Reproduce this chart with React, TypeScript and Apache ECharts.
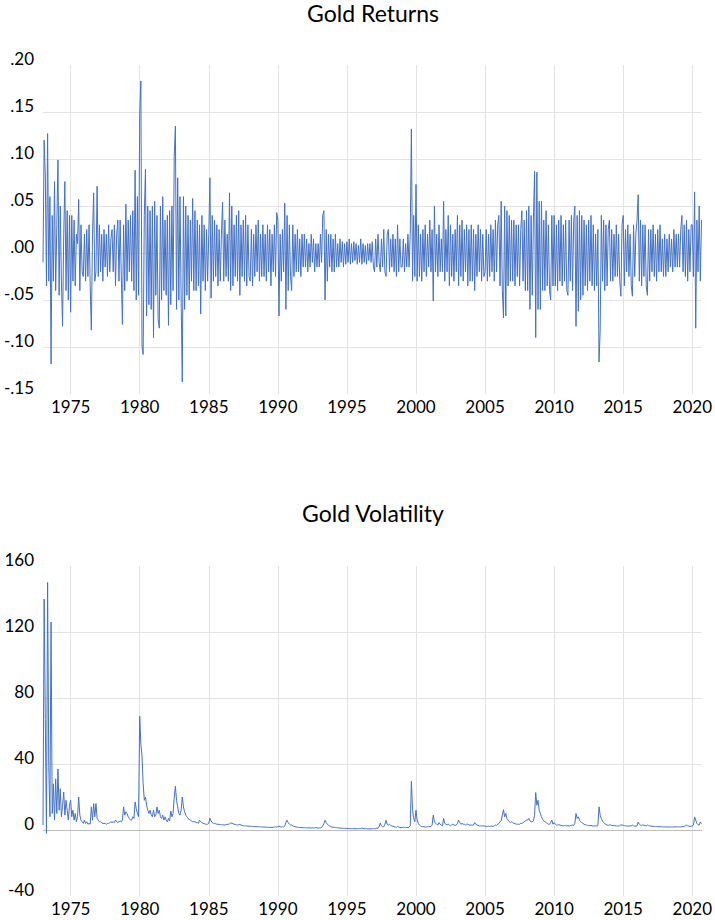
import React, { useEffect, useRef } from "react";
import * as echarts from "echarts";

// Monthly observations starting January 1973
const START_YEAR = 1973;
const PER_YEAR = 12;

const yearTicks = [1975, 1980, 1985, 1990, 1995, 2000, 2005, 2010, 2015, 2020];

// Gold returns (decimal), one row per year
const returns = [
  -.01, .12, .083, -.035, .127, -.03, .06, -.118, .04, -.03, .076, -.04, // 1973
  .03, .099, -.045, .05, -.03, -.078, .02, .076, -.04, .045, -.05, .04, // 1974
  -.063, .04, -.03, .035, -.035, .02, .01, .057, -.04, .03, -.02, -.025, // 1975
  .02, -.03, .025, -.025, .03, -.035, -.082, .02, .064, -.03, -.02, .071, // 1976
  -.025, .03, -.02, .02, -.03, .025, -.015, .02, -.025, .03, -.02, .015, // 1977
  .025, -.02, .03, -.035, .02, .035, -.03, .035, -.025, -.076, .03, -.04, // 1978
  .052, -.03, .035, -.02, .04, -.03, .045, -.04, .088, -.05, .06, -.045, // 1979
  .148, .183, -.099, -.108, .04, .089, -.067, .05, -.055, .045, -.06, .05, // 1980
  -.09, .055, -.045, .04, -.07, -.08, .05, -.05, .06, -.04, .035, -.045, // 1981
  .04, -.077, .045, -.055, .05, -.04, .103, .135, -.06, .08, -.05, .06, // 1982
  -.05, -.137, .06, -.06, .05, -.045, .04, -.05, .035, -.03, .058, -.04, // 1983
  .045, -.04, .035, -.035, .03, -.065, .04, -.03, .03, -.04, .025, -.03, // 1984
  .02, .08, -.048, .04, -.03, .035, -.025, .03, -.035, .025, -.03, .02, // 1985
  .054, -.03, .035, -.025, .02, -.03, .064, -.04, .05, -.035, .03, -.025, // 1986
  .04, -.03, .045, -.045, .03, -.025, .035, -.03, .04, -.035, .03, -.025, // 1987
  -.03, .025, -.035, .02, -.025, .03, -.02, .035, -.03, .02, -.025, .03, // 1988
  -.025, .02, -.03, .03, -.02, .025, -.035, .02, -.02, .03, -.025, .043, // 1989
  .035, -.067, .02, -.03, .025, -.02, .053, -.06, .04, -.04, .03, -.025, // 1990
  -.04, .03, -.025, .02, -.02, .025, -.02, .015, -.025, .02, -.015, .02, // 1991
  -.015, .015, -.02, .01, -.015, .02, -.01, .015, -.02, .01, -.015, .01, // 1992
  -.015, .02, -.01, .04, .045, -.05, .025, -.03, .02, -.015, .02, -.02, // 1993
  .015, -.02, .02, -.015, .01, -.015, .015, -.01, .012, -.015, .01, -.012, // 1994
  .012, -.01, .015, -.012, .01, -.01, .012, -.008, .01, -.012, .008, -.01, // 1995
  .015, -.012, .01, -.01, .008, -.012, .01, -.008, .01, -.01, .012, -.015, // 1996
  -.02, .015, -.015, .02, -.01, -.02, .015, -.015, .025, -.02, -.025, .02, // 1997
  .025, -.02, .015, -.015, .02, -.02, .015, -.025, .03, -.02, .015, -.015, // 1998
  -.015, .015, -.02, .01, -.015, .02, -.015, .02, .132, -.03, .04, -.025, // 1999
  .073, -.03, .03, -.025, .02, -.03, .025, -.02, .03, -.025, .02, -.015, // 2000
  .035, -.02, .025, -.051, .05, -.02, .02, -.025, .03, -.02, .015, -.02, // 2001
  .055, -.03, .025, -.02, .04, -.035, .03, -.025, .02, -.03, .025, -.02, // 2002
  .04, -.035, .03, -.025, .035, -.03, .025, -.02, .03, -.035, .025, -.03, // 2003
  .03, -.03, .025, -.04, .02, -.025, .03, -.02, .025, -.03, .02, -.025, // 2004
  -.02, .025, -.03, .02, -.025, .03, -.02, .025, -.03, .035, -.02, .03, // 2005
  .04, -.035, .055, -.04, -.069, .05, -.067, .045, -.035, .04, -.03, .035, // 2006
  -.03, .035, -.035, .03, -.025, .03, -.035, .025, .045, -.03, .035, -.04, // 2007
  .045, -.04, .05, -.06, .04, -.045, .035, .087, -.09, .086, -.06, .055, // 2008
  -.06, .055, -.04, .035, -.04, .045, -.035, .03, -.04, -.05, .04, -.035, // 2009
  .04, -.035, .03, -.04, .035, -.03, .04, -.035, .03, -.03, .035, -.04, // 2010
  -.045, .035, -.03, .04, -.04, .035, .05, -.078, .04, -.062, .045, -.05, // 2011
  .04, -.045, .035, -.035, .03, -.04, .035, -.03, .04, -.035, .03, -.04, // 2012
  .02, -.035, .025, -.116, -.082, .04, -.03, .035, -.04, .03, -.035, .025, // 2013
  .035, -.03, .025, -.03, .02, -.025, .03, -.025, .02, -.03, -.046, .03, // 2014
  .04, -.035, .025, -.02, .03, -.025, .02, -.035, -.046, .03, -.025, .02, // 2015
  .035, .062, -.03, .035, -.035, .03, -.025, .03, -.035, -.045, .025, -.03, // 2016
  .025, -.02, .03, -.025, .02, -.03, .025, -.02, .03, -.02, .015, -.025, // 2017
  .02, -.025, .015, -.02, .02, -.015, .015, -.02, .025, -.015, .02, -.015, // 2018
  .02, -.015, .025, .04, -.02, .03, -.025, .035, -.03, .025, -.02, .03, // 2019
  .03, -.025, .065, -.08, .035, -.02, .05, -.03, .035, // 2020
];

// Gold volatility, one row per year
const volatility = [
  3, 140, 67, -2, 150, 39, 8, 126, 10, 28, 6, 31, // 1973
  10, 37, 12, 25, 8, 15, 23, 9, 18, 12, 6, 15, // 1974
  18, 8, 12, 6, 10, 5, 8, 20, 9, 6, 5, 4, // 1975
  6, 4, 5, 3.5, 4, 3.5, 14, 6, 16, 8, 16, 7, // 1976
  6, 5, 5, 4.5, 4, 4, 4, 3.5, 4, 4, 4.5, 5, // 1977
  4.5, 5, 4.5, 6, 5, 4.5, 5, 5.5, 5, 6, 14, 9, // 1978
  11, 10, 8, 7, 6, 6, 8, 7, 17, 13, 10, 8, // 1979
  69, 52, 45, 28, 18, 20, 15, 12, 10, 12, 9, 8, // 1980
  12, 8, 9, 14, 10, 12, 8, 7, 9, 6, 8, 6, // 1981
  5, 7, 5.5, 11.5, 8, 10, 20, 26.5, 18, 14, 10, 9, // 1982
  12, 20, 14, 11, 9, 8, 7, 6.5, 6, 5.5, 5, 5, // 1983
  5, 4.5, 4.5, 4, 5.9, 5, 4.5, 4, 4, 3.5, 3.5, 3.5, // 1984
  4, 7.1, 5.5, 4.5, 4, 4, 3.8, 3.5, 3.5, 3.4, 3.2, 3.2, // 1985
  3.2, 3, 3, 3.2, 3.4, 3.5, 3.5, 4.4, 4, 3.8, 3.5, 3.2, // 1986
  3.2, 3, 3.2, 3.4, 3, 2.8, 2.6, 2.5, 2.5, 2.4, 2.4, 2.3, // 1987
  2.3, 2.2, 2.2, 2.1, 2.1, 2, 2, 2, 1.9, 1.9, 1.8, 1.8, // 1988
  1.8, 1.7, 1.7, 1.7, 1.6, 1.6, 1.6, 1.6, 1.6, 1.7, 2, 1.8, // 1989
  2, 2.4, 2, 1.8, 2, 1.8, 2.5, 4.5, 5.9, 4.5, 3.5, 3, // 1990
  3, 2.6, 2.2, 2, 1.8, 1.7, 1.6, 1.5, 1.5, 1.4, 1.4, 1.4, // 1991
  1.4, 1.3, 1.3, 1.3, 1.3, 1.2, 1.3, 1.2, 1.3, 1.5, 1.2, 1.2, // 1992
  1.2, 1.3, 1.5, 2.5, 4, 5.9, 4.5, 3.5, 2.8, 2.4, 2, 1.8, // 1993
  1.7, 1.6, 1.5, 1.4, 1.3, 1.2, 1.2, 1.1, 1.1, 1, 1, 1, // 1994
  1, .9, .9, .9, .8, .8, .8, .8, .8, .8, .8, .8, // 1995
  .9, 1.2, .9, .8, .8, .8, .7, .7, .7, .7, .8, .8, // 1996
  .8, .8, 1.2, 1, 2, 4.2, 2.5, 2, 2, 3.5, 5.9, 3.5, // 1997
  3, 3.5, 2.8, 2.5, 2.2, 2, 1.8, 1.6, 2.2, 1.8, 1.5, 1.4, // 1998
  1.4, 1.8, 1.5, 1.4, 1.6, 1.4, 1.8, 2.5, 29.5, 12, 7, 5, // 1999
  12, 6, 4, 3, 2.5, 2, 2, 2, 1.8, 1.8, 2, 2.2, // 2000
  2, 2.2, 3, 9, 5, 4, 3.5, 3, 4.5, 3.5, 3, 2.5, // 2001
  7, 4, 3.5, 3, 3.5, 3, 2.5, 3, 3.5, 3, 2.8, 3, // 2002
  4, 6, 4.5, 3.5, 4, 3.5, 3.5, 3, 3.5, 3.5, 3, 3, // 2003
  3, 3, 3, 4.5, 3.5, 3, 2.8, 2.5, 2.5, 2.4, 2.5, 2.5, // 2004
  2.3, 2.2, 2.2, 2.3, 2.2, 2.4, 2.3, 2.2, 2.5, 3, 2.8, 3.5, // 2005
  4, 5, 5.5, 9, 12.3, 8, 10, 7, 6, 5, 4.5, 5, // 2006
  4.5, 4, 4, 3.5, 3.5, 3.5, 3.5, 4, 4, 4.5, 5, 5.5, // 2007
  6, 6, 7, 5.5, 5, 5, 5.5, 9, 22.7, 15, 18, 12, // 2008
  10, 8, 6.5, 5.5, 5, 4.5, 4, 3.5, 3.5, 4.5, 6, 3.5, // 2009
  4.5, 3.5, 3, 3, 3.2, 3, 2.8, 2.6, 2.5, 2.8, 2.7, 2.5, // 2010
  2.6, 2.4, 2.6, 2.8, 3, 2.8, 4, 10, 7, 8, 6, 5, // 2011
  4.5, 4, 3.5, 3.2, 3, 2.8, 2.7, 2.6, 2.8, 2.5, 2.4, 2.5, // 2012
  2.4, 2.5, 2.6, 14, 9, 7, 5.5, 4.5, 3.8, 3.4, 3, 2.8, // 2013
  3.2, 3, 2.8, 2.7, 2.6, 2.6, 2.5, 2.4, 2.4, 2.6, 3.2, 2.9, // 2014
  2.9, 2.7, 2.5, 2.5, 2.4, 2.3, 2.6, 2.5, 2.9, 2.6, 2.4, 2.3, // 2015
  2.5, 4.8, 3.5, 3, 2.8, 3.1, 2.9, 2.7, 2.5, 3, 2.7, 2.5, // 2016
  2.4, 2.3, 2.2, 2.2, 2.1, 2.1, 2, 2, 2, 2, 1.9, 1.9, // 2017
  1.9, 1.9, 1.8, 1.8, 1.8, 1.8, 1.8, 1.8, 1.9, 1.9, 1.9, 1.9, // 2018
  1.9, 1.9, 1.9, 2, 2, 2.2, 2.6, 3, 2.6, 2.4, 2.2, 2.3, // 2019
  2.5, 3, 7.9, 6, 4, 3.2, 3, 4.8, 3.8, // 2020
];

const X_MIN = 1973;
const X_MAX = 2020.68;

const FONT = "Lato, 'Open Sans', sans-serif";
const LINE_COLOR = "#4472C4";
const GRID_COLOR = "#e3e3e3";

function toPoints(values: number[]) {
  return values.map((v, i) => [START_YEAR + i / PER_YEAR, v]);
}

function fmtReturn(v: number) {
  const s = v.toFixed(2);
  return s.replace("0.", ".");
}

export default function App() {
  const ref = useRef<HTMLDivElement>(null);

  useEffect(() => {
    if (!ref.current) return;
    const chart = echarts.init(ref.current, undefined, { renderer: "svg" });

    const xBase = (gridIndex: number) => ({
      gridIndex,
      type: "value" as const,
      min: X_MIN,
      max: X_MAX,
      axisLine: { show: false, onZero: false },
      axisTick: { show: false, customValues: yearTicks },
      axisLabel: {
        customValues: yearTicks,
        fontSize: 17,
        color: "#000",
        fontFamily: FONT,
        margin: 4,
        formatter: (v: number) => String(v),
      },
      splitLine: { show: true, lineStyle: { color: GRID_COLOR, width: 1 } },
    });

    const yLabel = {
      fontSize: 17,
      color: "#000",
      fontFamily: FONT,
      margin: 9,
      verticalAlign: "bottom",
      lineHeight: 13,
    };

    const titleText = (text: string, y: number) => ({
      type: "text",
      x: 373,
      y,
      style: {
        text,
        align: "center",
        verticalAlign: "middle",
        fontSize: 23,
        fontFamily: FONT,
        fill: "#000",
      },
    });

    chart.setOption({
      animation: false,
      backgroundColor: "#fff",
      textStyle: { fontFamily: FONT },
      graphic: [titleText("Gold Returns", 13), titleText("Gold Volatility", 513)],
      grid: [
        { left: 43, right: 12, top: 65, height: 329, containLabel: false },
        { left: 43, right: 12, top: 566, height: 330, containLabel: false },
      ],
      xAxis: [
        xBase(0),
        xBase(1),
        {
          gridIndex: 1,
          type: "value",
          min: X_MIN,
          max: X_MAX,
          axisLine: { show: true, onZero: true, lineStyle: { color: "#bfbfbf", width: 1 } },
          axisTick: { show: false },
          axisLabel: { show: false },
          splitLine: { show: false },
        },
      ],
      yAxis: [
        {
          gridIndex: 0,
          type: "value",
          min: -0.15,
          max: 0.2,
          interval: 0.05,
          axisLine: { show: false },
          axisTick: { show: false },
          axisLabel: { ...yLabel, formatter: (v: number) => fmtReturn(v) },
          splitLine: {
            show: true,
            showMinLine: false,
            showMaxLine: false,
            lineStyle: { color: GRID_COLOR, width: 1 },
          },
        },
        {
          gridIndex: 1,
          type: "value",
          min: -40,
          max: 160,
          interval: 40,
          axisLine: { show: false },
          axisTick: { show: false },
          axisLabel: { ...yLabel, formatter: (v: number) => String(v) },
          splitLine: {
            show: true,
            showMinLine: false,
            showMaxLine: false,
            lineStyle: { color: GRID_COLOR, width: 1 },
          },
        },
      ],
      series: [
        {
          name: "Gold Returns",
          type: "line",
          xAxisIndex: 0,
          yAxisIndex: 0,
          data: toPoints(returns),
          symbol: "none",
          showSymbol: false,
          lineStyle: { color: LINE_COLOR, width: 1 },
          itemStyle: { color: LINE_COLOR },
        },
        {
          name: "Gold Volatility",
          type: "line",
          xAxisIndex: 1,
          yAxisIndex: 1,
          data: toPoints(volatility),
          symbol: "none",
          showSymbol: false,
          lineStyle: { color: LINE_COLOR, width: 1 },
          itemStyle: { color: LINE_COLOR },
        },
      ],
    });

    return () => chart.dispose();
  }, []);

  return (
    <div
      ref={ref}
      style={{ position: "absolute", left: 0, top: 0, width: 715, height: 920 }}
    />
  );
}
